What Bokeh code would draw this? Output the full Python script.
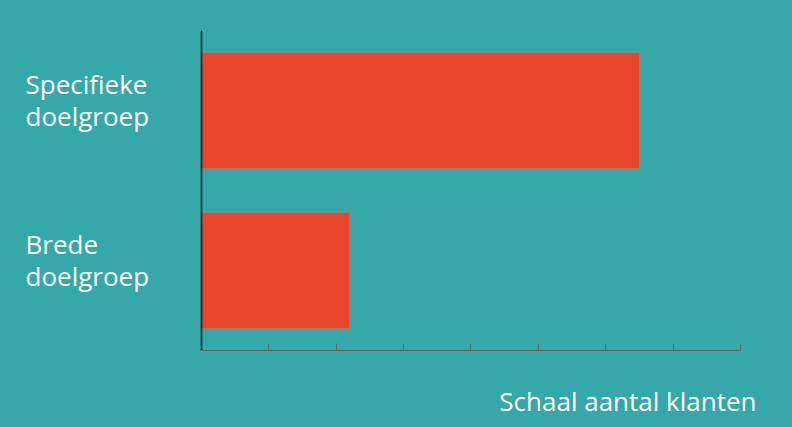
from bokeh.plotting import figure
from bokeh.models import FactorRange, FixedTicker, ColumnDataSource, Title, CustomLabelingPolicy, Span
from bokeh.embed import file_html
from bokeh.resources import INLINE

categories = ["Brede doelgroep", "Specifieke doelgroep"]
label_line1 = ["Brede", "Specifieke"]
label_line2 = ["doelgroep", "doelgroep"]
values = [2.2, 6.5]
x_ticks = [0, 1, 2, 3, 4, 5, 6, 7, 8]
x_title = "Schaal aantal klanten"

BG = "#35A8AA"
BAR = "#E8452A"
FONT = "Open Sans"

# frame spans the full width up to the axis end; the value 0 sits 201px from the left
X_START = -2.9833

p = figure(width=792, height=427, output_backend="svg", toolbar_location=None,
           y_range=FactorRange(factors=categories, range_padding=0),
           x_range=(X_START, x_ticks[-1]),
           min_border_left=0, min_border_right=52, min_border_top=30, min_border_bottom=77)
p.styles = {"background-color": BG}
p.background_fill_color = BG
p.border_fill_color = BG
p.outline_line_color = None
p.grid.visible = False
p.yaxis.visible = False

src = ColumnDataSource(dict(y=categories, right=values, l1=label_line1, l2=label_line2, x0=[0, 0]))
p.hbar(y="y", left=0, right="right", height=0.725, source=src,
       fill_color=BAR, line_color="#9a8070", line_width=1)

# vertical axis line at value 0
p.add_layout(Span(location=0, dimension="height", line_color="black", line_width=1.5))

xa = p.xaxis[0]
xa.bounds = (x_ticks[0], x_ticks[-1])
xa.ticker = FixedTicker(ticks=x_ticks)
xa.major_label_policy = CustomLabelingPolicy(code="""
for (const i of [...indices]) indices.unset(i)
return indices
""")
xa.major_label_standoff = 11
xa.axis_line_color = "#666666"
xa.major_tick_line_color = "#666666"
xa.major_tick_in = 7
xa.major_tick_out = 0
xa.minor_tick_line_color = None

for col, dy in (("l1", -27), ("l2", 5)):
    p.text(x="x0", y="y", text=col, source=src, x_offset=-176, y_offset=dy,
           text_align="left", text_baseline="alphabetic", text_color="white",
           text_font={"value": FONT}, text_font_size="26px")

t = Title(text=x_title, align="right", offset=-16, text_color="white",
          text_font=FONT, text_font_size="26px", text_font_style="normal", standoff=16)
p.add_layout(t, "below")

open("out.html", "w").write(file_html(p, INLINE))
